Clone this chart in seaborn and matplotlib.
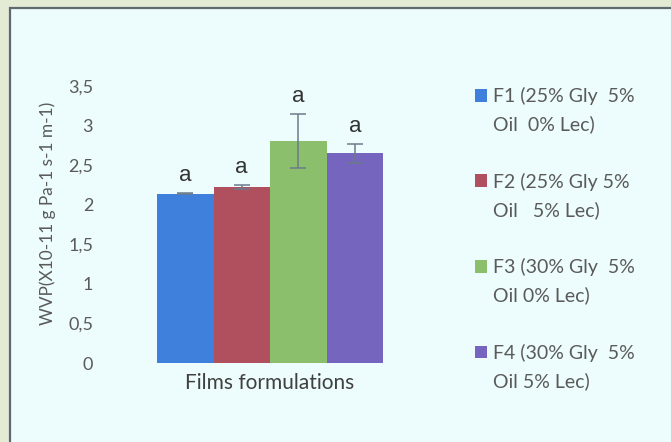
import matplotlib
matplotlib.use("Agg")
import matplotlib.pyplot as plt
from matplotlib.patches import Rectangle, Patch
import seaborn as sns
import pandas as pd

# ---- data ----
formulations = ["F1", "F2", "F3", "F4"]
legend_lines = [
    ["F1 (25% Gly  5%", "Oil  0% Lec)"],
    ["F2 (25% Gly 5%", "Oil   5% Lec)"],
    ["F3 (30% Gly  5%", "Oil 0% Lec)"],
    ["F4 (30% Gly  5%", "Oil 5% Lec)"],
]
wvp = [2.14, 2.22, 2.81, 2.65]
wvp_err = [0.01, 0.025, 0.34, 0.12]
letters = ["a", "a", "a", "a"]
ytick_values = [0, 0.5, 1, 1.5, 2, 2.5, 3, 3.5]
ytick_labels = ["0", "0,5", "1", "1,5", "2", "2,5", "3", "3,5"]
bar_colors = ["#3f80dc", "#b04f5e", "#8cbf6c", "#7665bf"]

df = pd.DataFrame({"Formulation": formulations, "WVP": wvp})

sns.set_theme(style="white")
plt.rcParams["font.family"] = ["Lato", "DejaVu Sans"]

W, H = 671, 442
fig = plt.figure(figsize=(W / 100, H / 100), dpi=100)
fig.patch.set_facecolor("#e3ebd4")

# inner panel
fig.patches.append(Rectangle((10 / W, -0.01), 1.0, (H - 8) / H + 0.01,
                             transform=fig.transFigure, facecolor="#edfcfc",
                             edgecolor="#5f6a70", linewidth=1.6, zorder=-5))

ax = fig.add_axes([157 / W, (H - 363) / H, 226 / W, 277 / H])
ax.set_facecolor("none")
ax.set_zorder(2)

sns.barplot(data=df, x="Formulation", y="WVP", hue="Formulation",
            palette=bar_colors, width=1.0, saturation=1, legend=False,
            errorbar=None, ax=ax, linewidth=0)
xpos = list(range(len(formulations)))
ax.errorbar(xpos, wvp, yerr=wvp_err, fmt="none", ecolor="#6b7b8b",
            elinewidth=1.1, capsize=6, capthick=1.1)
for x, v, e, t in zip(xpos, wvp, wvp_err, letters):
    ax.annotate(t, (x, v + e), xytext=(0, 5), textcoords="offset points",
                ha="center", va="bottom", fontsize=16, color="#333333",
                family="Liberation Sans")

ax.set_xlim(-0.5, 3.5)
ax.set_ylim(0, 3.5)
ax.set_yticks(ytick_values)
ax.set_yticklabels(ytick_labels)
ax.set_xticks([])
ax.tick_params(axis="y", length=0, pad=46, labelsize=13, labelcolor="#5a5a5a")
for s in ax.spines.values():
    s.set_visible(False)
ax.set_xlabel("Films formulations", fontsize=15, color="#404040", labelpad=7.5)
ax.set_ylabel("WVP(X10-11 g Pa-1 s-1 m-1)", fontsize=12.4, color="#5a5a5a")
ax.yaxis.set_label_coords(-(157 - 56) / 226, (363 - 213) / 277)

# legend: first line has a colored square, other rows are text-only / spacers
handles, labels, spacer_idx = [], [], []
for i, (l1, l2) in enumerate(legend_lines):
    handles.append(Patch(facecolor=bar_colors[i], edgecolor="none"))
    labels.append(l1)
    handles.append(Patch(facecolor="none", edgecolor="none"))
    labels.append(l2)
    if i < len(legend_lines) - 1:
        handles.append(Patch(facecolor="none", edgecolor="none"))
        spacer_idx.append(len(labels))
        labels.append("(Gy)")
leg = fig.legend(handles, labels, loc="upper left",
                 bbox_to_anchor=(475 / W, 1 - 87 / H), frameon=False,
                 fontsize=14, handlelength=0.62, handleheight=0.62,
                 handletextpad=0.3, labelspacing=0.54, borderpad=0,
                 borderaxespad=0)
for k, t in enumerate(leg.get_texts()):
    t.set_color("#5a5a5a")
    if k in spacer_idx:
        t.set_alpha(0)

fig.savefig("out.png", dpi=100, facecolor=fig.get_facecolor())
